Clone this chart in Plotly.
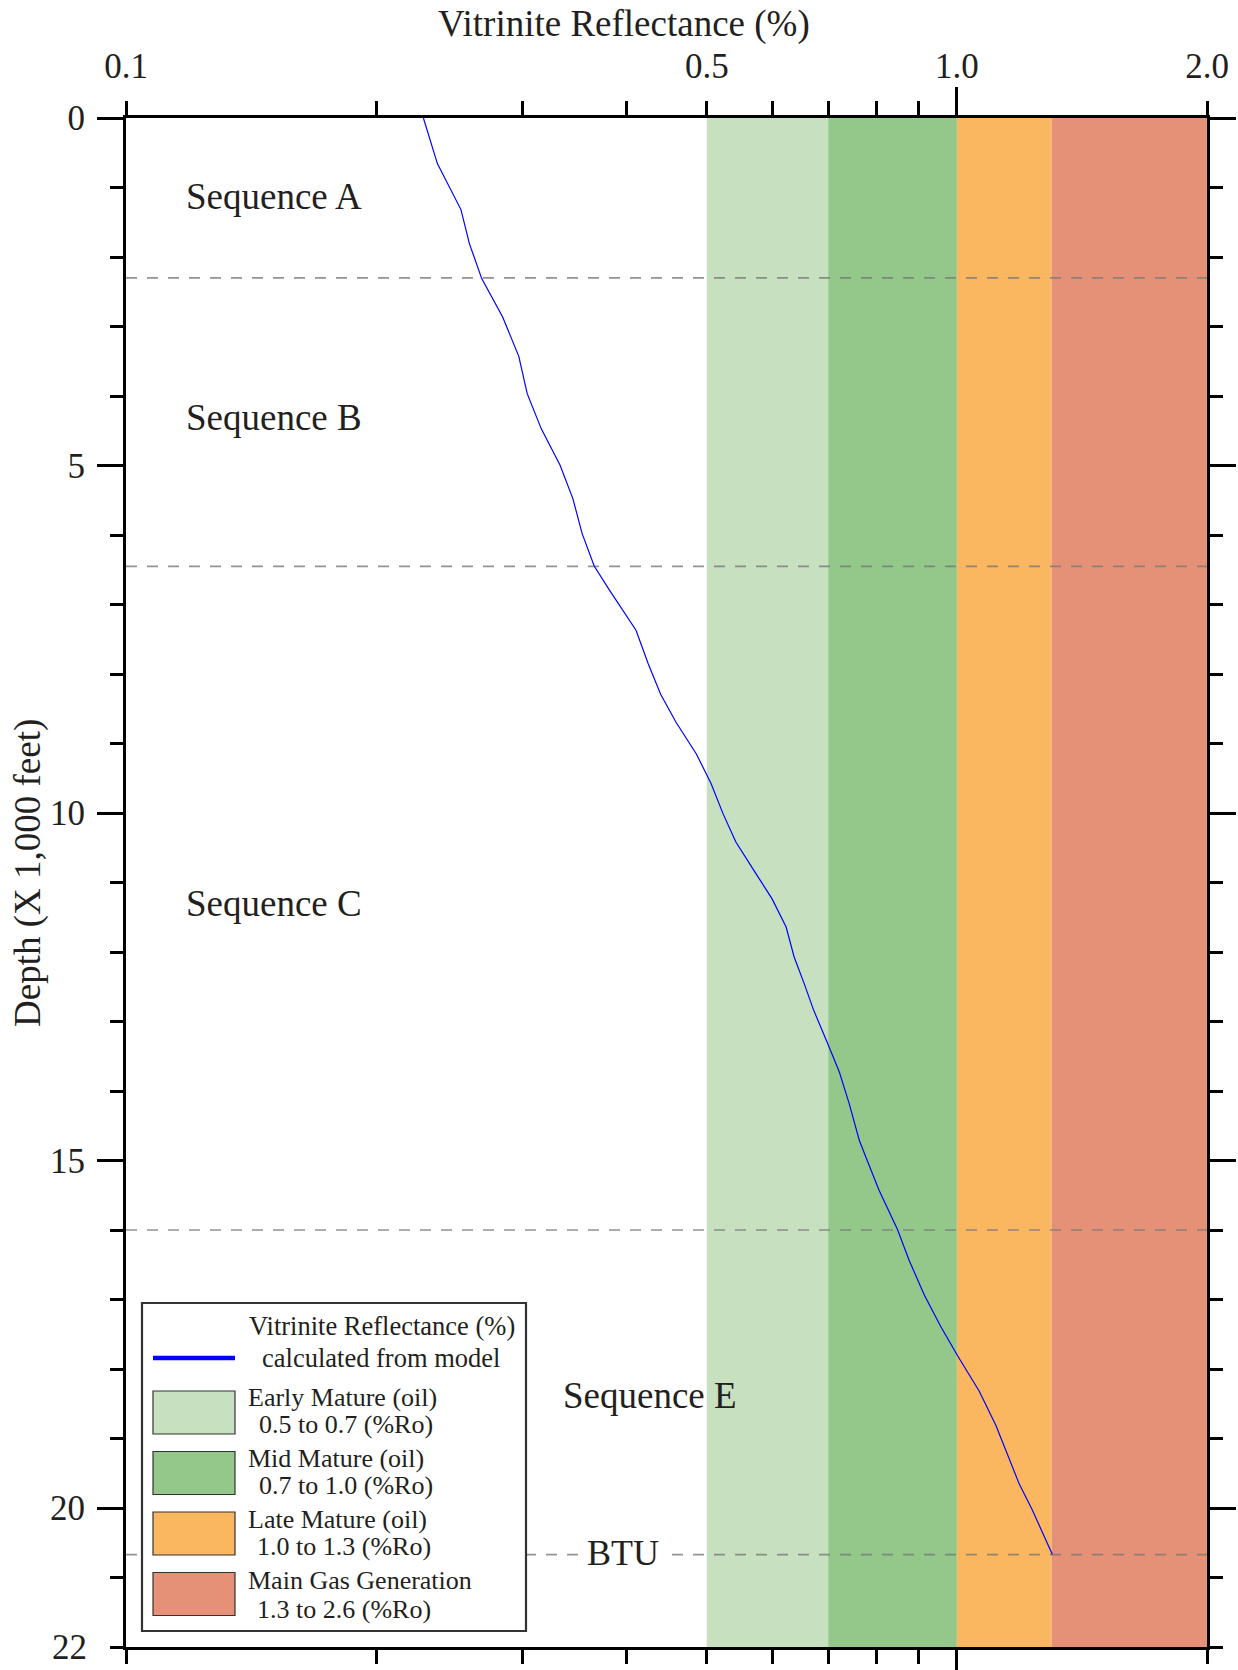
import math
import plotly.graph_objects as go

# ---- data -----------------------------------------------------------------
# Modelled vitrinite reflectance profile: depth (thousands of feet) and Ro (%)
depth_kft = [0.0, 0.656, 1.318, 1.807, 2.311, 2.863, 3.429, 3.966, 4.469, 4.997,
             5.476, 5.980, 6.446, 6.796, 7.371, 7.850, 8.292, 8.691, 9.155, 9.577,
             10.009, 10.417, 10.872, 11.232, 11.640, 12.072, 12.455, 12.829, 13.318, 13.727,
             14.181, 14.709, 14.950, 15.429, 15.990, 16.436, 16.940, 17.396, 17.810, 18.321,
             18.810, 19.170, 19.649, 20.033, 20.670]
ro_pct = [0.228, 0.237, 0.253, 0.259, 0.268, 0.284, 0.297, 0.304, 0.316, 0.333,
          0.345, 0.354, 0.366, 0.382, 0.411, 0.425, 0.440, 0.459, 0.486, 0.506,
          0.523, 0.542, 0.573, 0.599, 0.623, 0.637, 0.655, 0.672, 0.699, 0.722,
          0.742, 0.763, 0.777, 0.806, 0.848, 0.876, 0.914, 0.957, 1.002, 1.064,
          1.114, 1.145, 1.188, 1.233, 1.303]

# Thermal maturity windows (%Ro)
window_names = ["Early Mature (oil)", "Mid Mature (oil)", "Late Mature (oil)", "Main Gas Generation"]
window_lo = [0.5, 0.7, 1.0, 1.3]
window_hi = [0.7, 1.0, 1.3, 2.6]

# Sequence boundaries (thousands of feet) and labels
boundary_depths = [2.30, 6.45, 16.0, 20.67]
sequence_labels = ["Sequence A", "Sequence B", "Sequence C", "Sequence E"]
btu_label = "BTU"

# Axes
ro_range = [0.1, 2.0]
depth_range = [0, 22]
x_tick_vals = [0.1, 0.2, 0.3, 0.4, 0.5, 0.6, 0.7, 0.8, 0.9, 1.0, 2.0]
x_tick_text = ["0.1", "", "", "", "0.5", "", "", "", "", "1.0", "2.0"]
y_tick_vals = [0, 5, 10, 15, 20]
y_end_tick = [22]

# ---- styling ----------------------------------------------------------------
FONT = "Liberation Serif, Times New Roman, serif"
INK = "#231f20"
window_colors = ["#c7e0c0", "#93c88a", "#fab760", "#e59177"]
W, H = 1238, 1670
PLOT_L, PLOT_T, PLOT_W, PLOT_H = 126, 118, 1081, 1529


def px_x(px):
    return (px - PLOT_L) / PLOT_W


def px_y(py):
    return 1 - (py - PLOT_T) / PLOT_H


fig = go.Figure()

# maturity bands
for lo, hi, col in zip(window_lo, window_hi, window_colors):
    fig.add_trace(go.Scatter(
        x=[lo, hi, hi, lo, lo],
        y=[depth_range[0], depth_range[0], depth_range[1], depth_range[1], depth_range[0]],
        fill="toself", fillcolor=col, mode="none",
        hoverinfo="skip", showlegend=False))

# sequence boundaries
for d in boundary_depths:
    fig.add_trace(go.Scatter(
        x=ro_range, y=[d, d], mode="lines",
        line=dict(color="rgba(120,120,120,0.8)", width=1.7, dash="11px,10px"),
        hoverinfo="skip", showlegend=False))

# modelled Ro curve
fig.add_trace(go.Scatter(
    x=ro_pct, y=depth_kft, mode="lines",
    line=dict(color="#0000ff", width=1.2),
    showlegend=False))

# carriers for the overlay axes (long 1.0 tick, bottom depth label)
fig.add_trace(go.Scatter(x=[1.0], y=[depth_range[1]], xaxis="x2", yaxis="y",
                         mode="markers", marker=dict(opacity=0), hoverinfo="skip",
                         showlegend=False))
fig.add_trace(go.Scatter(x=[1.0], y=[depth_range[1]], xaxis="x", yaxis="y3",
                         mode="markers", marker=dict(opacity=0), hoverinfo="skip",
                         showlegend=False))

tickfont = dict(family=FONT, size=35, color=INK)
log_range = [math.log10(ro_range[0]), math.log10(ro_range[1])]
y_standoff = 5

fig.update_layout(
    width=W, height=H,
    margin=dict(l=PLOT_L, r=W - PLOT_L - PLOT_W, t=PLOT_T, b=H - PLOT_T - PLOT_H,
                autoexpand=False),
    paper_bgcolor="white", plot_bgcolor="white",
    showlegend=False,
    xaxis=dict(type="log", range=log_range, side="top", automargin=False,
               tickmode="array", tickvals=x_tick_vals, ticktext=x_tick_text,
               ticks="outside", ticklen=14, tickwidth=2.5, tickcolor="black",
               showline=True, linewidth=3, linecolor="black", mirror="ticks",
               showgrid=False, zeroline=False, tickfont=tickfont,
               ticklabelstandoff=9),
    xaxis2=dict(type="log", range=log_range, side="top", overlaying="x", anchor="y",
                automargin=False,
                tickmode="array", tickvals=[1.0], ticktext=[""],
                ticks="outside", ticklen=28, tickwidth=2.5, tickcolor="black",
                showline=True, linewidth=3, linecolor="black", mirror="ticks",
                showgrid=False, zeroline=False),
    yaxis=dict(range=[depth_range[1], depth_range[0]], automargin=False,
               tickmode="array", tickvals=y_tick_vals,
               ticks="outside", ticklen=26, tickwidth=2.5, tickcolor="black",
               minor=dict(dtick=1, tick0=0, ticks="outside", ticklen=13,
                          tickwidth=2.5, tickcolor="black", showgrid=False),
               showline=True, linewidth=3, linecolor="black", mirror="ticks",
               showgrid=False, zeroline=False, tickfont=tickfont,
               ticklabelstandoff=y_standoff),
    yaxis3=dict(range=[depth_range[1], depth_range[0]], overlaying="y", side="left",
                anchor="x", automargin=False,
                tickmode="array", tickvals=y_end_tick,
                ticktext=[str(v) for v in y_end_tick],
                ticks="outside", ticklen=13, tickwidth=2.5, tickcolor="black",
                showline=False, showgrid=False, zeroline=False, tickfont=tickfont,
                ticklabelstandoff=y_standoff + 13),
)

annotations = []


def text(s, x, y, size, xanchor="left", angle=0, **kw):
    annotations.append(dict(text=s, x=px_x(x), y=px_y(y), xref="paper", yref="paper",
                            xanchor=xanchor, yanchor="middle", showarrow=False,
                            textangle=angle,
                            font=dict(family=FONT, size=size, color=INK), **kw))


# axis titles
text("Vitrinite Reflectance (%)", 624, 24.5, 37, xanchor="center")
text("Depth (X 1,000 feet)", 28, 873, 37, xanchor="center", angle=-90)

# sequence labels
seq_pos = [(184, 196.5), (184, 417.5), (184, 903.5), (561, 1395.5)]
for label, (x, y) in zip(sequence_labels, seq_pos):
    text(label, x, y, 37)
text(btu_label, 623, 1552.8, 36, xanchor="center", bgcolor="white", borderpad=8)

# legend
shapes = []
shapes.append(dict(type="rect", xref="paper", yref="paper",
                   x0=px_x(142), x1=px_x(526), y0=px_y(1631), y1=px_y(1303),
                   fillcolor="white", line=dict(color="#333333", width=2.2), layer="above"))
shapes.append(dict(type="line", xref="paper", yref="paper",
                   x0=px_x(153), x1=px_x(235), y0=px_y(1358), y1=px_y(1358),
                   line=dict(color="#0000ff", width=4.5), layer="above"))
text("Vitrinite Reflectance (%)", 382, 1326.2, 26.5, xanchor="center")
text("calculated from model", 381, 1358.2, 26.5, xanchor="center")

sw_top = [1391, 1451.5, 1512, 1572.5]
line1_y = [1397.9, 1458.5, 1519.5, 1580.5]
line2_y = [1424.5, 1485.5, 1546.2, 1609.5]
line2_x = [257, 257, 255, 255]
for i, (name, lo, hi, col) in enumerate(zip(window_names, window_lo, window_hi, window_colors)):
    shapes.append(dict(type="rect", xref="paper", yref="paper",
                       x0=px_x(153), x1=px_x(235), y0=px_y(sw_top[i] + 43), y1=px_y(sw_top[i]),
                       fillcolor=col, line=dict(color="#333333", width=1.2), layer="above"))
    text(name, 246, line1_y[i], 26)
    text(f"{lo:.1f} to {hi:.1f} (%Ro)", line2_x[i], line2_y[i], 26)

fig.update_layout(annotations=annotations, shapes=shapes)

fig.write_html("out.html")
